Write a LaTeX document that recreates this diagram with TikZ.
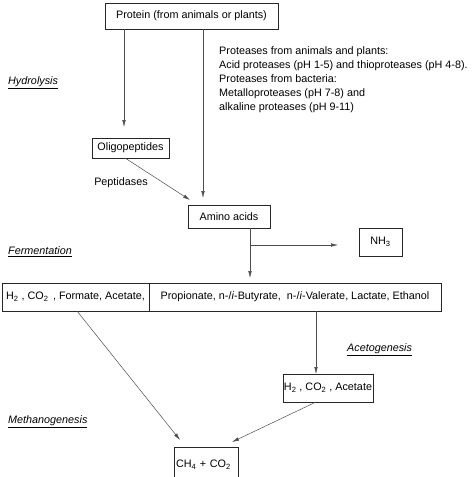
\documentclass[tikz,border=0pt]{standalone}
\usepackage{fontspec}
\setmainfont{Liberation Sans}
\usetikzlibrary{arrows.meta}
\begin{document}
\begin{tikzpicture}[x=1pt,y=-1pt,
  box/.style={draw=black!85, line width=0.6pt, inner sep=0pt, font=\fontsize{10.8}{13}\selectfont},
  arr/.style={draw=black!70, line width=0.5pt, -{Latex[length=7pt,width=3.6pt]}},
  stage/.style={font=\fontsize{10.8}{13}\selectfont\itshape, anchor=west, inner sep=0pt},
  txt/.style={font=\fontsize{10.8}{13}\selectfont, inner sep=0pt}]
\useasboundingbox (0,0) rectangle (474,477);
% boxes
\node[box, minimum width=173pt, minimum height=26pt] (protein) at (191.5,16) {Protein (from animals or plants)};
\node[box, minimum width=77pt, minimum height=20pt] (oligo) at (130.5,148) {Oligopeptides};
\node[box, minimum width=82pt, minimum height=23pt] (amino) at (229,216.5) {Amino acids};
\node[box, minimum width=43pt, minimum height=28pt] (nh3) at (380.5,242) {NH\textsubscript{3}};
\node[box, minimum width=147pt, minimum height=28pt] (ferm1) at (75.5,297) {H\textsubscript{2} , CO\textsubscript{2}\hspace{1.5pt} , Formate, Acetate,};
\node[box, minimum width=292pt, minimum height=28pt] (ferm2) at (295,297) {Propionate, n-/\textit{i}-Butyrate, \ n-/\textit{i}-Valerate, Lactate, Ethanol};
\node[box, minimum width=90pt, minimum height=28pt] (aceto) at (328,388) {H\textsubscript{2} , CO\textsubscript{2} , Acetate};
\node[box, minimum width=64pt, minimum height=36pt, text width=60pt, align=left] (methane) at (206,465) {CH\textsubscript{4} + CO\textsubscript{2}};
% texts
\node[txt, anchor=west, align=left, font=\fontsize{10.8}{14}\selectfont] (proteases) at (219,80) {Proteases from animals and plants:\\Acid proteases (pH 1-5) and thioproteases (pH 4-8).\\Proteases from bacteria:\\Metalloproteases (pH 7-8) and\\alkaline proteases (pH 9-11)};
\node[txt] (peptidases) at (121,183) {Peptidases};
\node[stage] (hydro) at (8,83) {\underline{Hydrolysis}};
\node[stage] (fermlab) at (8,252) {\underline{Fermentation}};
\node[stage] (acetolab) at (347,350) {\underline{Acetogenesis}};
\node[stage] (methlab) at (8,422) {\underline{Methanogenesis}};
% connector end points
\coordinate (t1) at (124,127);
\coordinate (t2) at (203,198);
\coordinate (t3) at (190,200);
\coordinate (t4) at (250,278);
\coordinate (b4) at (250,245);
\coordinate (t5) at (338,245);
\coordinate (s6) at (77,311);
\coordinate (t6) at (180,440);
\coordinate (t7) at (316,374);
\coordinate (s8) at (316,402);
\coordinate (t8) at (232,442);
\coordinate (s3) at (125,158);
% connectors
\draw[arr] (protein.south -| t1) -- (t1);
\draw[arr] (protein.south -| t2) -- (t2);
\draw[arr] (s3) -- (t3);
\draw[arr] (amino.south -| t4) -- (t4);
\draw[arr] (b4) -- (t5);
\draw[arr] (s6) -- (t6);
\draw[arr] (ferm2.south -| t7) -- (t7);
\draw[arr] (s8) -- (t8);
\end{tikzpicture}
\end{document}
